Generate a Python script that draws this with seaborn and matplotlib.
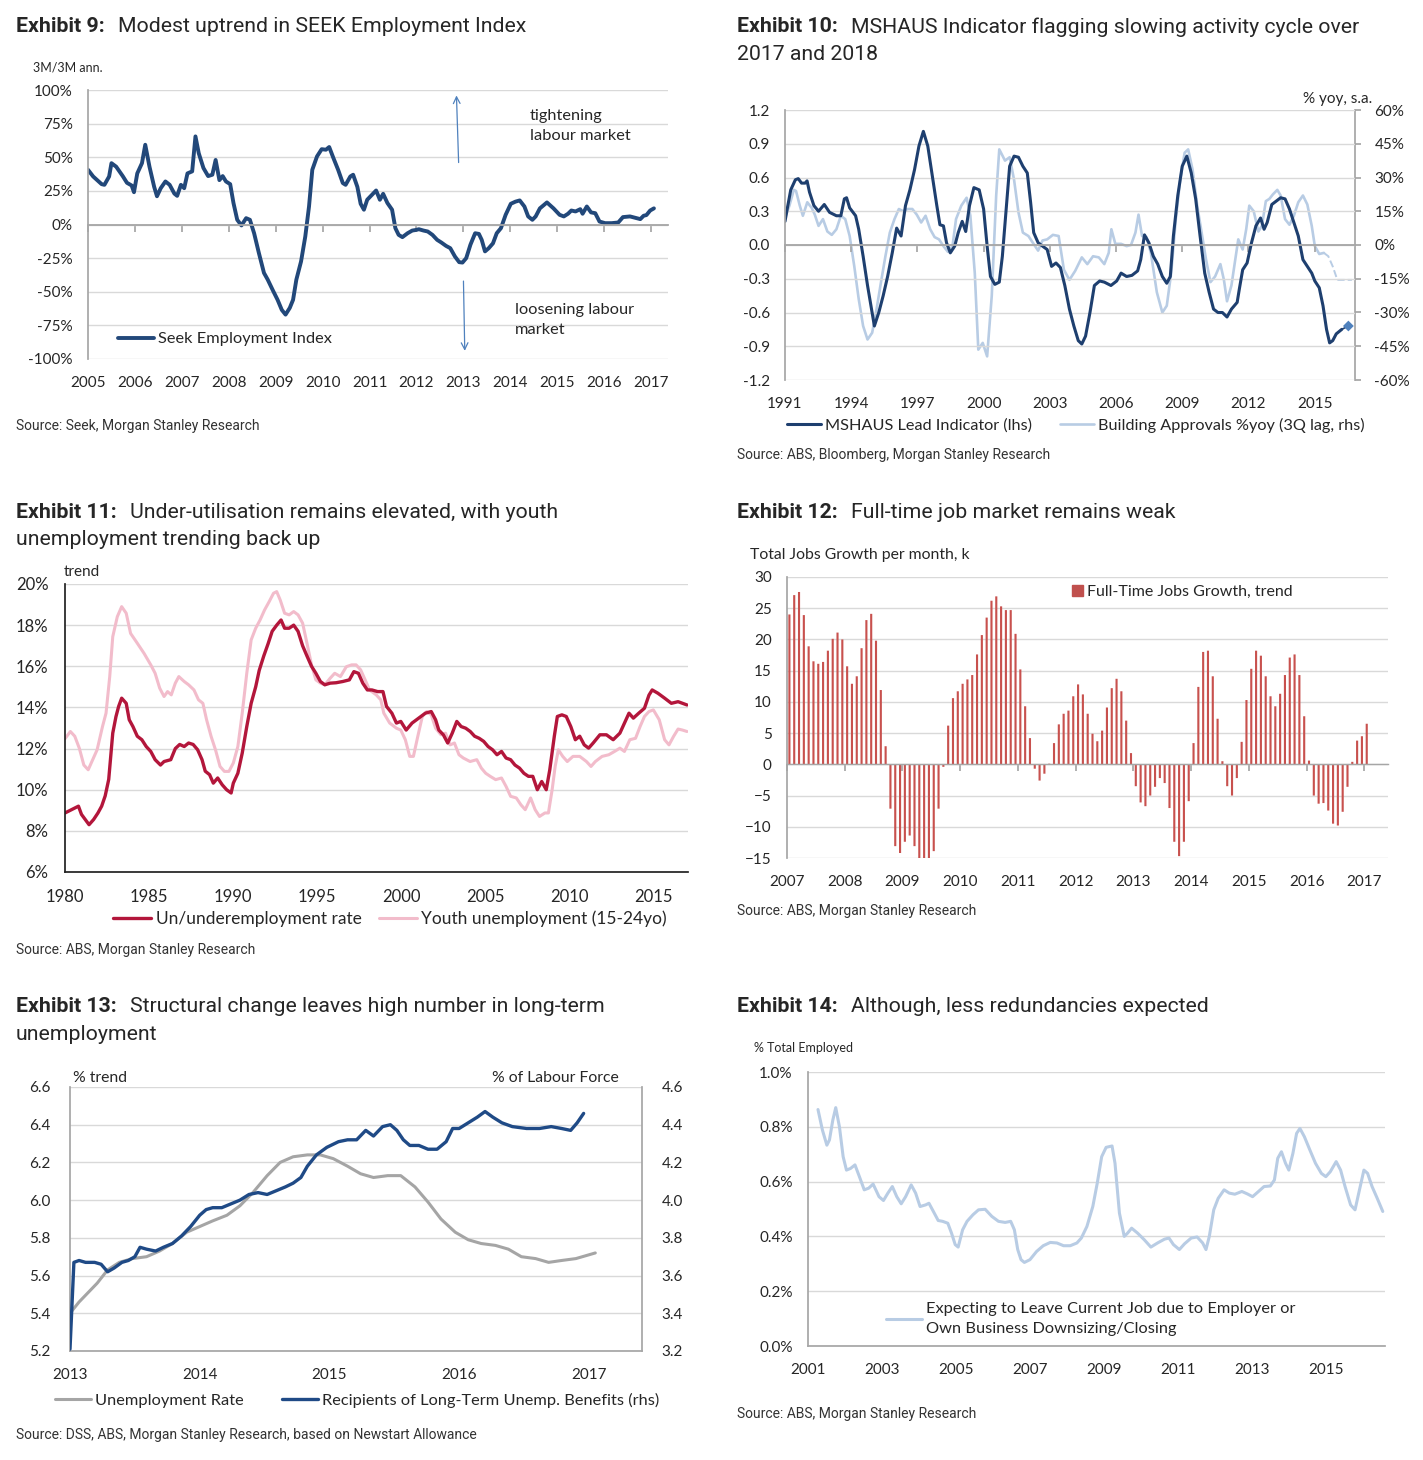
import numpy as np
import matplotlib
matplotlib.use('Agg')
import matplotlib.pyplot as plt
import matplotlib.ticker as mticker
from matplotlib.patches import Patch
import seaborn as sns

sns.set_theme(style='white')
plt.rcParams['font.family'] = ['Lato', 'DejaVu Sans']

# ---------------- data ----------------
# Exhibit 9: SEEK employment index, 3M/3M ann. %
seek = [(2005.0, 40.7), (2005.11, 35.7), (2005.29, 30), (2005.35, 29.5), (2005.45, 35.7), (2005.5, 45.6),
        (2005.6, 43), (2005.74, 36), (2005.83, 31), (2005.93, 29), (2005.98, 24), (2006.05, 38),
        (2006.15, 45.6), (2006.22, 59.3), (2006.31, 43), (2006.41, 28), (2006.47, 21), (2006.55, 27),
        (2006.65, 32), (2006.74, 29.5), (2006.84, 23), (2006.9, 21.3), (2006.98, 29.5), (2007.05, 27),
        (2007.12, 38), (2007.22, 39.5), (2007.29, 65.5), (2007.36, 53), (2007.46, 42), (2007.56, 36),
        (2007.65, 37), (2007.72, 48), (2007.8, 33), (2007.87, 36), (2007.94, 32), (2008.03, 30),
        (2008.1, 16), (2008.18, 3.5), (2008.27, -0.7), (2008.37, 4.7), (2008.45, 3.5), (2008.54, -6.5),
        (2008.64, -21), (2008.75, -36), (2008.83, -41), (2008.94, -49), (2009.04, -56), (2009.13, -63.5),
        (2009.21, -67), (2009.3, -62), (2009.37, -56), (2009.44, -41), (2009.54, -27.5), (2009.63, -9),
        (2009.71, 13.4), (2009.78, 40.7), (2009.88, 50.6), (2009.98, 56), (2010.07, 55.6), (2010.14, 57.6),
        (2010.23, 49.4), (2010.33, 40.7), (2010.43, 30.8), (2010.49, 29.5), (2010.59, 35.7), (2010.65, 37),
        (2010.74, 28), (2010.81, 15.4), (2010.88, 11), (2010.95, 18.4), (2011.05, 22), (2011.14, 25.3),
        (2011.22, 18.4), (2011.29, 22.8), (2011.38, 16), (2011.48, 11), (2011.55, -2.7), (2011.62, -7.7),
        (2011.7, -9.4), (2011.81, -6.5), (2011.91, -4.5), (2012.0, -4), (2012.05, -3.5), (2012.15, -4.5),
        (2012.24, -5.2), (2012.34, -7.7), (2012.44, -11.4), (2012.53, -13.4), (2012.63, -15.9),
        (2012.72, -17.6), (2012.82, -23.8), (2012.91, -28), (2012.98, -28.3), (2013.06, -25), (2013.15, -15),
        (2013.25, -6.5), (2013.33, -7), (2013.39, -11.4), (2013.46, -20), (2013.54, -17.6), (2013.63, -14),
        (2013.71, -6.5), (2013.8, -2.7), (2013.9, 7.2), (2014.01, 15.4), (2014.11, 17), (2014.2, 17.9),
        (2014.3, 13.4), (2014.38, 6), (2014.47, 3.5), (2014.54, 6), (2014.63, 12), (2014.78, 16.4),
        (2014.92, 12), (2015.05, 7.2), (2015.14, 6), (2015.23, 8), (2015.3, 10.4), (2015.39, 9.7),
        (2015.49, 11.4), (2015.54, 8), (2015.63, 13.4), (2015.72, 9), (2015.81, 8.4), (2015.9, 2.2),
        (2016.02, 1), (2016.16, 1), (2016.3, 1.5), (2016.4, 5.5), (2016.55, 6), (2016.69, 4.7),
        (2016.77, 4), (2016.84, 6.5), (2016.9, 7), (2016.98, 10.4), (2017.06, 12)]

# Exhibit 10: MSHAUS lead indicator (lhs) and building approvals %yoy (rhs)
mshaus = [(1991.0, 0.21), (1991.1, 0.32), (1991.26, 0.49), (1991.47, 0.58), (1991.6, 0.59), (1991.75, 0.55),
          (1991.91, 0.55), (1992.0, 0.57), (1992.11, 0.47), (1992.31, 0.35), (1992.52, 0.30), (1992.78, 0.36),
          (1993.02, 0.29), (1993.33, 0.26), (1993.53, 0.26), (1993.69, 0.41), (1993.79, 0.42), (1993.93, 0.33),
          (1994.2, 0.26), (1994.34, 0.14), (1994.54, -0.10), (1994.74, -0.36), (1994.95, -0.6), (1995.05, -0.72),
          (1995.25, -0.6), (1995.45, -0.45), (1995.65, -0.28), (1995.86, -0.07), (1996.06, 0.15), (1996.26, 0.08),
          (1996.46, 0.35), (1996.66, 0.49), (1996.87, 0.67), (1997.07, 0.88), (1997.27, 1.01), (1997.47, 0.88),
          (1997.68, 0.61), (1997.88, 0.35), (1998.02, 0.18), (1998.18, 0.17), (1998.32, 0.02), (1998.49, -0.07),
          (1998.69, -0.01), (1998.85, 0.11), (1999.03, 0.21), (1999.19, 0.12), (1999.36, 0.35), (1999.56, 0.51),
          (1999.8, 0.49), (2000.0, 0.32), (2000.16, -0.01), (2000.31, -0.28), (2000.51, -0.35), (2000.71, -0.33),
          (2000.85, -0.10), (2001.01, 0.29), (2001.18, 0.70), (2001.38, 0.79), (2001.58, 0.78), (2001.78, 0.70),
          (2001.98, 0.64), (2002.13, 0.38), (2002.27, 0.11), (2002.47, 0.02), (2002.67, -0.01), (2002.88, -0.04),
          (2003.08, -0.19), (2003.28, -0.16), (2003.48, -0.2), (2003.68, -0.36), (2003.89, -0.57), (2004.09, -0.72),
          (2004.29, -0.85), (2004.45, -0.88), (2004.62, -0.81), (2004.82, -0.6), (2005.02, -0.36), (2005.26, -0.32),
          (2005.47, -0.33), (2005.77, -0.36), (2006.03, -0.32), (2006.23, -0.25), (2006.48, -0.28), (2006.72, -0.27),
          (2006.98, -0.23), (2007.12, -0.13), (2007.29, 0.09), (2007.49, 0.02), (2007.69, -0.10), (2007.89, -0.17),
          (2008.1, -0.28), (2008.3, -0.34), (2008.46, -0.28), (2008.6, 0.08), (2008.8, 0.44), (2009.0, 0.70),
          (2009.21, 0.79), (2009.41, 0.64), (2009.61, 0.41), (2009.81, 0.08), (2010.02, -0.25), (2010.22, -0.42),
          (2010.42, -0.57), (2010.62, -0.6), (2010.82, -0.6), (2011.03, -0.64), (2011.23, -0.57), (2011.49, -0.51),
          (2011.59, -0.39), (2011.74, -0.22), (2011.94, -0.16), (2012.14, 0.02), (2012.34, 0.17), (2012.55, 0.24),
          (2012.71, 0.14), (2012.85, 0.2), (2013.06, 0.36), (2013.26, 0.39), (2013.46, 0.42), (2013.66, 0.41),
          (2013.86, 0.32), (2014.06, 0.2), (2014.26, 0.08), (2014.47, -0.13), (2014.67, -0.19), (2014.87, -0.25),
          (2015.01, -0.32), (2015.21, -0.38), (2015.38, -0.54), (2015.54, -0.75), (2015.68, -0.87),
          (2015.82, -0.85), (2015.98, -0.79), (2016.23, -0.75)]
mshaus_latest = [(2016.53, -0.72)]
approvals = [(1991.0, 12), (1991.2, 17.5), (1991.4, 24.5), (1991.5, 24), (1991.67, 17.5), (1991.81, 13),
             (1992.01, 19), (1992.21, 16.5), (1992.35, 13.5), (1992.52, 8.5), (1992.72, 11.5), (1992.92, 6),
             (1993.12, 4.5), (1993.33, 7), (1993.53, 13), (1993.73, 11.5), (1993.93, 4), (1994.14, -9.5),
             (1994.34, -24), (1994.54, -36), (1994.74, -42), (1994.95, -39), (1995.15, -28.5), (1995.35, -16.5),
             (1995.55, -5), (1995.75, 5.5), (1995.96, 11.5), (1996.16, 16), (1996.36, 15), (1996.56, 16),
             (1996.77, 16), (1996.97, 13.5), (1997.17, 10), (1997.37, 13), (1997.58, 7), (1997.78, 3.5),
             (1997.98, 2.5), (1998.18, -0.5), (1998.38, -3), (1998.59, -0.5), (1998.75, 11.5), (1998.99, 17.5),
             (1999.23, 21), (1999.4, 13), (1999.6, -12.5), (1999.76, -46.5), (1999.96, -43.5), (2000.16, -49.5),
             (2000.37, -22.5), (2000.57, 22), (2000.71, 42.5), (2000.97, 37.5), (2001.18, 39), (2001.38, 29),
             (2001.58, 14.5), (2001.78, 5.5), (2002.03, 4), (2002.23, 1), (2002.47, -2.5), (2002.67, 2),
             (2002.88, 2.5), (2003.14, 4.5), (2003.4, 4), (2003.64, -11), (2003.89, -15.5), (2004.15, -11.5),
             (2004.45, -5.5), (2004.7, -8.5), (2004.96, -5), (2005.22, -5.5), (2005.47, -8.5), (2005.67, -3.5),
             (2005.79, 7), (2005.97, 0.5), (2006.23, 0.5), (2006.48, -0.5), (2006.68, 0), (2006.88, 5.5),
             (2007.02, 13.5), (2007.18, 4), (2007.38, 3.5), (2007.58, -3.5), (2007.85, -21), (2008.1, -30),
             (2008.3, -27), (2008.5, -12.5), (2008.71, 11.5), (2008.91, 29), (2009.11, 41), (2009.27, 42.5),
             (2009.47, 33.5), (2009.68, 17.5), (2009.88, 5.5), (2010.08, -6.5), (2010.28, -16.5), (2010.49, -14),
             (2010.73, -8.5), (2010.89, -15.5), (2011.03, -25), (2011.23, -18), (2011.54, 2.5), (2011.74, -2),
             (2011.9, 7), (2012.04, 17.5), (2012.24, 15), (2012.45, 6), (2012.61, 8.5), (2012.79, 19.5),
             (2012.95, 20.5), (2013.11, 22.5), (2013.31, 24.5), (2013.46, 22), (2013.66, 11.5), (2013.86, 9),
             (2014.06, 13), (2014.26, 19), (2014.47, 22), (2014.67, 18), (2014.87, 8.5), (2015.01, -0.5),
             (2015.21, -4), (2015.42, -3.5)]
approvals_est = [(2015.42, -3.5), (2015.62, -5), (2015.82, -9.5), (2016.03, -15.5), (2016.69, -15.5)]

# Exhibit 11: un/underemployment rate and youth unemployment, %
underemp = [(1980.0, 8.87), (1980.32, 9.0), (1980.58, 9.1), (1980.8, 9.2), (1980.98, 8.8), (1981.25, 8.5),
            (1981.43, 8.3), (1981.7, 8.55), (1981.96, 8.87), (1982.18, 9.2), (1982.39, 9.7), (1982.6, 10.5),
            (1982.84, 12.75), (1983.03, 13.55), (1983.19, 14.05), (1983.37, 14.45), (1983.64, 14.2),
            (1983.82, 13.4), (1984.04, 13.07), (1984.3, 12.6), (1984.57, 12.43), (1984.83, 12.1), (1985.1, 11.86),
            (1985.36, 11.46), (1985.68, 11.2), (1985.89, 11.37), (1986.29, 11.46), (1986.56, 12.0), (1986.82, 12.2),
            (1987.09, 12.1), (1987.35, 12.27), (1987.62, 12.2), (1987.89, 11.94), (1988.15, 11.46), (1988.34, 10.9),
            (1988.6, 10.73), (1988.82, 10.32), (1989.08, 10.57), (1989.35, 10.24), (1989.61, 10.0), (1989.88, 9.84),
            (1990.01, 10.32), (1990.28, 10.8), (1990.54, 11.78), (1990.81, 13.07), (1991.07, 14.2), (1991.34, 15.0),
            (1991.55, 15.8), (1991.82, 16.5), (1992.08, 17.1), (1992.32, 17.7), (1992.59, 18.0), (1992.85, 18.25),
            (1993.06, 17.85), (1993.33, 17.85), (1993.6, 18.0), (1993.86, 17.7), (1994.13, 17.0), (1994.39, 16.5),
            (1994.66, 16.0), (1994.92, 15.66), (1995.19, 15.26), (1995.45, 15.1), (1995.77, 15.18), (1996.12, 15.2),
            (1996.52, 15.26), (1996.91, 15.34), (1997.18, 15.74), (1997.45, 15.66), (1997.71, 15.18),
            (1997.98, 14.85), (1998.25, 14.85), (1998.59, 14.77), (1998.91, 14.77), (1999.12, 14.05),
            (1999.44, 13.72), (1999.71, 13.24), (1999.97, 13.32), (2000.29, 12.9), (2000.64, 13.24), (2000.9, 13.4),
            (2001.17, 13.56), (2001.43, 13.72), (2001.78, 13.8), (2002.04, 13.4), (2002.23, 12.9), (2002.5, 12.67),
            (2002.76, 12.27), (2003.03, 12.75), (2003.3, 13.32), (2003.56, 13.07), (2003.83, 12.99), (2004.1, 12.83),
            (2004.36, 12.6), (2004.63, 12.5), (2004.9, 12.35), (2005.16, 12.1), (2005.43, 11.94), (2005.69, 11.7),
            (2005.96, 11.86), (2006.23, 11.54), (2006.5, 11.46), (2006.76, 11.2), (2007.03, 11.05), (2007.29, 10.8),
            (2007.56, 10.65), (2007.82, 10.65), (2008.09, 10.0), (2008.35, 10.4), (2008.62, 10.0), (2008.83, 10.97),
            (2009.1, 12.6), (2009.28, 13.56), (2009.55, 13.64), (2009.81, 13.56), (2010.08, 13.07), (2010.35, 12.43),
            (2010.61, 12.6), (2010.88, 12.18), (2011.14, 12.02), (2011.41, 12.27), (2011.81, 12.67), (2012.2, 12.67),
            (2012.6, 12.43), (2013.0, 12.75), (2013.27, 13.24), (2013.54, 13.72), (2013.8, 13.48), (2014.12, 13.72),
            (2014.46, 13.96), (2014.73, 14.6), (2014.92, 14.85), (2015.26, 14.69), (2015.66, 14.45), (2016.06, 14.2),
            (2016.46, 14.28), (2016.72, 14.2), (2016.99, 14.12)]
youth = [(1980.0, 12.48), (1980.32, 12.83), (1980.58, 12.6), (1980.85, 12.02), (1981.12, 11.2), (1981.38, 10.97),
         (1981.65, 11.46), (1981.91, 11.94), (1982.23, 13.07), (1982.44, 13.72), (1982.66, 15.5), (1982.84, 17.44),
         (1983.11, 18.41), (1983.37, 18.9), (1983.64, 18.58), (1983.9, 17.6), (1984.3, 17.12), (1984.7, 16.63),
         (1985.1, 16.07), (1985.36, 15.66), (1985.63, 14.94), (1985.89, 14.53), (1986.1, 14.77), (1986.32, 14.61),
         (1986.56, 15.18), (1986.77, 15.5), (1987.09, 15.26), (1987.35, 15.1), (1987.67, 14.85), (1987.94, 14.37),
         (1988.2, 14.2), (1988.42, 13.4), (1988.69, 12.59), (1988.95, 11.94), (1989.22, 11.13), (1989.48, 10.89),
         (1989.75, 10.89), (1990.01, 11.3), (1990.28, 12.1), (1990.54, 13.72), (1990.81, 15.66), (1991.07, 17.28),
         (1991.34, 17.85), (1991.6, 18.25), (1991.87, 18.74), (1992.14, 19.14), (1992.4, 19.55), (1992.59, 19.63),
         (1992.8, 19.22), (1993.06, 18.58), (1993.33, 18.5), (1993.6, 18.66), (1993.86, 18.5), (1994.13, 18.1),
         (1994.39, 17.12), (1994.66, 16.07), (1994.92, 15.34), (1995.19, 15.18), (1995.45, 15.1), (1995.77, 15.42),
         (1996.04, 15.66), (1996.38, 15.5), (1996.73, 15.98), (1997.05, 16.07), (1997.31, 16.07), (1997.58, 15.83),
         (1997.85, 15.34), (1998.11, 14.85), (1998.51, 14.61), (1998.78, 14.37), (1998.96, 13.72), (1999.31, 13.24),
         (1999.71, 12.99), (1999.97, 12.9), (2000.24, 12.43), (2000.5, 11.62), (2000.72, 11.62), (2000.98, 12.59),
         (2001.25, 13.56), (2001.51, 13.8), (2001.78, 13.64), (2002.04, 12.99), (2002.36, 12.67), (2002.63, 12.75),
         (2002.9, 12.18), (2003.16, 12.27), (2003.43, 11.7), (2003.69, 11.54), (2004.09, 11.37), (2004.49, 11.46),
         (2004.76, 11.05), (2005.02, 10.8), (2005.29, 10.65), (2005.61, 10.49), (2005.96, 10.57), (2006.23, 10.16),
         (2006.5, 9.68), (2006.84, 9.6), (2007.11, 9.27), (2007.37, 9.03), (2007.69, 9.6), (2007.96, 9.03),
         (2008.22, 8.7), (2008.54, 8.87), (2008.75, 8.87), (2008.97, 10.0), (2009.15, 11.13), (2009.34, 11.94),
         (2009.6, 11.62), (2009.87, 11.37), (2010.21, 11.62), (2010.61, 11.62), (2011.01, 11.37), (2011.28, 11.13),
         (2011.54, 11.37), (2011.94, 11.62), (2012.34, 11.7), (2012.68, 11.86), (2013.0, 12.02), (2013.27, 11.86),
         (2013.59, 12.43), (2013.93, 12.5), (2014.2, 13.07), (2014.46, 13.56), (2014.73, 13.8), (2014.99, 13.88),
         (2015.34, 13.4), (2015.66, 12.43), (2015.92, 12.18), (2016.19, 12.59), (2016.46, 12.95), (2016.72, 12.9),
         (2016.99, 12.83)]

# Exhibit 12: full-time jobs growth per month (k), monthly from Jan 2007
ft_start = 2007
ft_growth = [24.0, 27.1, 27.6, 23.9, 18.9, 16.5, 16.1, 16.4, 18.2, 20.1,
             21.1, 20.0, 15.7, 12.9, 14.1, 18.6, 23.1, 24.1, 19.8, 11.9,
             2.9, -7.1, -13.1, -14.2, -12.4, -11.4, -13.1, -15.1, -15.2, -15.1,
             -13.9, -7.1, -0.4, 6.2, 10.6, 11.7, 12.9, 13.6, 14.3, 17.6,
             20.7, 23.5, 26.2, 26.9, 25.3, 24.7, 24.7, 20.9, 15.2, 9.3,
             4.2, -0.7, -2.6, -1.5, 0.1, 3.4, 6.4, 8.1, 8.6, 10.9,
             12.8, 11.2, 8.1, 4.9, 3.7, 5.4, 9.1, 12.2, 13.7, 11.7,
             7.0, 1.8, -3.5, -6.1, -6.7, -5.0, -3.6, -2.2, -3.0, -7.0,
             -12.4, -14.7, -12.4, -5.9, 3.4, 12.4, 18.0, 18.2, 14.1, 7.3,
             0.5, -3.5, -5.0, -2.2, 3.6, 10.3, 15.3, 18.2, 17.4, 14.1,
             10.9, 9.3, 11.3, 14.3, 17.1, 17.6, 14.3, 7.7, 0.6, -5.0,
             -6.3, -6.2, -7.4, -9.5, -9.8, -7.6, -3.6, 0.4, 3.8, 4.5,
             6.5]

# Exhibit 13: unemployment rate (lhs) and long-term benefit recipients (rhs), %
unemp = [(2013.0, 5.40), (2013.07, 5.46), (2013.14, 5.51), (2013.21, 5.56), (2013.29, 5.63), (2013.38, 5.67),
         (2013.48, 5.69), (2013.59, 5.70), (2013.69, 5.73), (2013.79, 5.77), (2013.9, 5.83), (2014.0, 5.86),
         (2014.1, 5.89), (2014.21, 5.92), (2014.31, 5.97), (2014.41, 6.04), (2014.52, 6.13), (2014.62, 6.20),
         (2014.72, 6.23), (2014.83, 6.24), (2014.93, 6.24), (2015.03, 6.22), (2015.14, 6.18), (2015.24, 6.14),
         (2015.34, 6.12), (2015.45, 6.13), (2015.55, 6.13), (2015.66, 6.07), (2015.76, 5.99), (2015.86, 5.90),
         (2015.97, 5.83), (2016.07, 5.79), (2016.17, 5.77), (2016.28, 5.76), (2016.38, 5.74), (2016.48, 5.70),
         (2016.59, 5.69), (2016.69, 5.67), (2016.79, 5.68), (2016.9, 5.69), (2017.0, 5.71), (2017.05, 5.72)]
lt_benefits = [(2013.0, 3.21), (2013.03, 3.67), (2013.07, 3.68), (2013.12, 3.67), (2013.19, 3.67), (2013.24, 3.66),
               (2013.29, 3.62), (2013.34, 3.64), (2013.4, 3.67), (2013.45, 3.68), (2013.5, 3.70), (2013.54, 3.75),
               (2013.59, 3.74), (2013.66, 3.73), (2013.72, 3.75), (2013.79, 3.77), (2013.86, 3.81), (2013.93, 3.86),
               (2014.0, 3.92), (2014.05, 3.95), (2014.1, 3.96), (2014.17, 3.96), (2014.24, 3.98), (2014.31, 4.0),
               (2014.38, 4.03), (2014.45, 4.04), (2014.52, 4.03), (2014.59, 4.05), (2014.66, 4.07), (2014.72, 4.09),
               (2014.78, 4.12), (2014.83, 4.18), (2014.9, 4.24), (2014.98, 4.28), (2015.07, 4.31), (2015.14, 4.32),
               (2015.21, 4.32), (2015.28, 4.37), (2015.34, 4.34), (2015.41, 4.39), (2015.47, 4.40), (2015.52, 4.37),
               (2015.57, 4.32), (2015.62, 4.29), (2015.69, 4.29), (2015.76, 4.27), (2015.83, 4.27), (2015.9, 4.31),
               (2015.95, 4.38), (2016.0, 4.38), (2016.07, 4.41), (2016.14, 4.44), (2016.2, 4.47), (2016.26, 4.44),
               (2016.33, 4.41), (2016.41, 4.39), (2016.52, 4.38), (2016.62, 4.38), (2016.71, 4.39), (2016.79, 4.38),
               (2016.86, 4.37), (2016.91, 4.41), (2016.96, 4.46)]

# Exhibit 14: expecting to leave job due to downsizing/closing, % total employed
redund = [(2001.27, 0.863), (2001.39, 0.788), (2001.51, 0.733), (2001.58, 0.752), (2001.67, 0.824), (2001.75, 0.870),
          (2001.85, 0.80), (2001.95, 0.691), (2002.04, 0.642), (2002.15, 0.648), (2002.27, 0.661), (2002.39, 0.618),
          (2002.52, 0.570), (2002.64, 0.576), (2002.76, 0.591), (2002.92, 0.545), (2003.04, 0.531), (2003.16, 0.558),
          (2003.28, 0.582), (2003.4, 0.545), (2003.52, 0.519), (2003.64, 0.545), (2003.79, 0.588), (2003.91, 0.558),
          (2004.03, 0.509), (2004.18, 0.515), (2004.27, 0.521), (2004.39, 0.491), (2004.52, 0.458), (2004.64, 0.455),
          (2004.78, 0.448), (2004.88, 0.412), (2004.98, 0.370), (2005.06, 0.361), (2005.18, 0.424), (2005.3, 0.455),
          (2005.46, 0.479), (2005.61, 0.497), (2005.79, 0.499), (2005.97, 0.473), (2006.15, 0.455), (2006.33, 0.451),
          (2006.48, 0.455), (2006.58, 0.424), (2006.67, 0.352), (2006.76, 0.315), (2006.85, 0.305), (2007.0, 0.315),
          (2007.18, 0.345), (2007.36, 0.366), (2007.55, 0.378), (2007.73, 0.376), (2007.91, 0.366), (2008.09, 0.366),
          (2008.27, 0.376), (2008.39, 0.394), (2008.54, 0.436), (2008.7, 0.509), (2008.82, 0.594), (2008.94, 0.691),
          (2009.06, 0.725), (2009.22, 0.730), (2009.3, 0.667), (2009.42, 0.485), (2009.55, 0.40), (2009.64, 0.412),
          (2009.75, 0.430), (2009.91, 0.412), (2010.09, 0.388), (2010.27, 0.361), (2010.45, 0.376), (2010.64, 0.390),
          (2010.76, 0.394), (2010.88, 0.370), (2011.04, 0.352), (2011.18, 0.373), (2011.36, 0.394), (2011.52, 0.398),
          (2011.67, 0.376), (2011.76, 0.352), (2011.85, 0.40), (2011.97, 0.497), (2012.09, 0.539), (2012.25, 0.570),
          (2012.39, 0.558), (2012.54, 0.554), (2012.73, 0.564), (2012.88, 0.555), (2013.02, 0.545), (2013.18, 0.564),
          (2013.33, 0.582), (2013.5, 0.584), (2013.61, 0.606), (2013.7, 0.685), (2013.8, 0.709), (2013.91, 0.667),
          (2014.0, 0.642), (2014.11, 0.703), (2014.21, 0.776), (2014.3, 0.794), (2014.42, 0.764), (2014.57, 0.715),
          (2014.72, 0.667), (2014.88, 0.630), (2015.0, 0.618), (2015.12, 0.636), (2015.28, 0.673), (2015.4, 0.642),
          (2015.52, 0.582), (2015.67, 0.515), (2015.79, 0.497), (2015.91, 0.570), (2016.03, 0.642), (2016.13, 0.630),
          (2016.25, 0.582), (2016.39, 0.539), (2016.54, 0.491)]

# ---------------- layout helpers ----------------
W, H = 1423, 1460
fig = plt.figure(figsize=(W / 100, H / 100), dpi=100)
GRID = '#d9d9d9'
AXC = '#a6a6a6'
TFS = 15.3


def box(l, t, r, b):
    return [l / W, 1 - b / H, (r - l) / W, (b - t) / H]


def ftext(x, y, s, **kw):
    kw.setdefault('va', 'center')
    fig.text(x / W, 1 - y / H, s, **kw)


def title(x, x2, y, bold, line1, line2=None):
    ftext(x, y, bold, fontsize=TFS, fontweight='bold', family=['Roboto', 'DejaVu Sans'])
    ftext(x2, y, line1, fontsize=TFS, family=['Roboto', 'DejaVu Sans'])
    if line2:
        ftext(x, y + 28, line2, fontsize=TFS, family=['Roboto', 'DejaVu Sans'])


def source(x, y, s):
    ftext(x, y, s, fontsize=10, color='#333333', family=['Roboto', 'DejaVu Sans'])


def fleg(ax, handles, labels, x, y, fs=11.5, **kw):
    lg = ax.legend(handles, labels, loc='center left', bbox_to_anchor=(x / W, 1 - y / H),
                   bbox_transform=fig.transFigure, frameon=False, borderpad=0, borderaxespad=0,
                   fontsize=fs, handletextpad=0.25, **kw)
    return lg


def line(ax, data, **kw):
    xs, ys = zip(*data)
    sns.lineplot(x=list(xs), y=list(ys), ax=ax, estimator=None, sort=False, **kw)


def base(ax, left_color=AXC):
    for s in ['top', 'right']:
        ax.spines[s].set_visible(False)
    ax.spines['left'].set_color(left_color)
    ax.grid(axis='y', color=GRID, lw=1)
    ax.grid(axis='x', visible=False)
    ax.set_axisbelow(True)
    ax.set_xlabel('')
    ax.set_ylabel('')


def zero_axis(ax, ticks, fs=11, pad=10):
    ax.spines['bottom'].set_position(('data', 0))
    ax.spines['bottom'].set_color(AXC)
    ax.spines['bottom'].set_linewidth(1.3)
    ax.set_xticks(ticks)
    ax.tick_params(axis='x', direction='out', length=5, color=AXC, labelbottom=False, bottom=True)
    sec = ax.secondary_xaxis(0)
    sec.set_xticks(ticks, [str(t) for t in ticks])
    sec.tick_params(length=0, labelsize=fs, pad=pad)
    sec.spines['bottom'].set_visible(False)


pct0 = mticker.FuncFormatter(lambda v, p: f'{v:.0f}%')

# ---------------- Exhibit 9 ----------------
title(16, 118, 27, 'Exhibit 9:', 'Modest uptrend in SEEK Employment Index')
ax9 = fig.add_axes(box(88, 90, 668, 359))
line(ax9, seek, color='#22487a', lw=2.8, label='Seek Employment Index')
base(ax9)
ax9.set_xlim(2005, 2017.36)
ax9.set_ylim(-100, 100)
ax9.set_yticks(np.arange(-100, 101, 25))
ax9.yaxis.set_major_formatter(pct0)
ax9.tick_params(axis='y', length=0, labelsize=11, pad=11)
zero_axis(ax9, list(range(2005, 2018)), pad=12)
ax9.annotate('', xy=(2012.85, 98), xytext=(2012.9, 44),
             arrowprops=dict(arrowstyle='->', color='#4f81bd', lw=0.9))
ax9.annotate('', xy=(2013.03, -96), xytext=(2013.0, -40),
             arrowprops=dict(arrowstyle='->', color='#4f81bd', lw=0.9))
ax9.text(2014.41, 86, 'tightening\nlabour market', fontsize=11.8, va='top', linespacing=1.6)
ax9.text(2014.09, -58, 'loosening labour\nmarket', fontsize=11.8, va='top', linespacing=1.6)
h, l = ax9.get_legend_handles_labels()
fleg(ax9, h, l, 118, 339, fs=11.8, handlelength=2.2)
ftext(33, 68, '3M/3M ann.', fontsize=9)
source(16, 426, 'Source: Seek, Morgan Stanley Research')

# ---------------- Exhibit 10 ----------------
title(737, 851, 27, 'Exhibit 10:', 'MSHAUS Indicator flagging slowing activity cycle over', '2017 and 2018')
ax10 = fig.add_axes(box(785, 110, 1355, 380))
ax10b = ax10.twinx()
line(ax10b, approvals, color='#b8cce4', lw=1.9, label='Building Approvals %yoy (3Q lag, rhs)')
line(ax10b, approvals_est, color='#b8cce4', lw=1.4, linestyle='--')
line(ax10, mshaus, color='#1e3f6f', lw=2.2, label='MSHAUS Lead Indicator (lhs)')
line(ax10, [mshaus[-1]] + mshaus_latest, color='#1e3f6f', lw=1.2)
mx, my = zip(*mshaus_latest)
sns.scatterplot(x=list(mx), y=list(my), ax=ax10, marker='D', color='#4f81bd', s=30, edgecolor='none', zorder=5)
ax10.set_zorder(ax10b.get_zorder() + 1)
ax10.patch.set_visible(False)
base(ax10)
ax10.spines['right'].set_visible(False)
ax10b.spines['top'].set_visible(False)
ax10b.spines['left'].set_visible(False)
ax10b.spines['bottom'].set_visible(False)
ax10b.spines['right'].set_color(AXC)
ax10.set_xlim(1991, 2016.83)
ax10.set_ylim(-1.2, 1.2)
ax10b.set_ylim(-60, 60)
ax10.set_yticks(np.round(np.arange(-1.2, 1.21, 0.3), 1))
ax10.yaxis.set_major_formatter(mticker.FuncFormatter(lambda v, p: f'{v + 0.0:.1f}'))
ax10b.set_yticks(np.arange(-60, 61, 15))
ax10b.yaxis.set_major_formatter(pct0)
ax10b.set_ylabel('')
ax10.tick_params(axis='y', length=0, labelsize=11, pad=11)
ax10b.tick_params(axis='y', direction='out', length=4, color=AXC, labelsize=11, pad=10)
ax10b.grid(False)
zero_axis(ax10, list(range(1991, 2016, 3)), pad=12)
h1, l1 = ax10.get_legend_handles_labels()
h2, l2 = ax10b.get_legend_handles_labels()
if ax10b.get_legend():
    ax10b.get_legend().remove()
fleg(ax10, h1 + h2, l1 + l2, 787, 425, fs=11.7, ncol=2, handlelength=2.1, columnspacing=1.7)
ftext(1303, 99, '% yoy, s.a.', fontsize=11)
source(737, 455, 'Source: ABS, Bloomberg, Morgan Stanley Research')

# ---------------- Exhibit 11 ----------------
title(16, 130, 512, 'Exhibit 11:', 'Under-utilisation remains elevated, with youth',
      'unemployment trending back up')
ax11 = fig.add_axes(box(65, 584, 688, 872))
line(ax11, youth, color='#f2bccb', lw=2.2, label='Youth unemployment (15-24yo)')
line(ax11, underemp, color='#b3163b', lw=2.4, label='Un/underemployment rate')
base(ax11, left_color='#222222')
ax11.spines['bottom'].set_color('#222222')
ax11.set_xlim(1980, 2017.05)
ax11.set_ylim(6, 20)
ax11.set_yticks(np.arange(6, 21, 2))
ax11.yaxis.set_major_formatter(pct0)
ax11.set_xticks(list(range(1980, 2016, 5)))
ax11.tick_params(axis='both', direction='out', length=4, color='#222222', labelsize=12)
ax11.tick_params(axis='y', pad=8)
ax11.tick_params(axis='x', pad=8)
h, l = ax11.get_legend_handles_labels()
fleg(ax11, h[::-1], l[::-1], 113, 919, fs=12.5, ncol=2, handlelength=2.2, columnspacing=1.0)
ftext(64, 572, 'trend', fontsize=11)
source(16, 950, 'Source: ABS, Morgan Stanley Research')

# ---------------- Exhibit 12 ----------------
title(737, 851, 512, 'Exhibit 12:', 'Full-time job market remains weak')
ax12 = fig.add_axes(box(787, 577, 1388, 858))
ft_x = ft_start + (np.arange(len(ft_growth)) + 0.5) / 12
sns.barplot(x=ft_x, y=ft_growth, ax=ax12, native_scale=True, width=0.44, color='#c8514e',
            saturation=1, errorbar=None, linewidth=0, snap=False)
base(ax12)
ax12.set_xlim(2007, 2017.41)
ax12.set_ylim(-15, 30)
ax12.set_yticks(np.arange(-15, 31, 5))
ax12.tick_params(axis='y', length=0, labelsize=11, pad=11)
zero_axis(ax12, list(range(2007, 2018)), pad=12)
ax12.spines['bottom'].set_linewidth(1.0)
fleg(ax12, [Patch(color='#c0504d')], ['Full-Time Jobs Growth, trend'], 1072, 592,
     fs=11.5, handlelength=0.7, handleheight=0.7)
ftext(750, 555, 'Total Jobs Growth per month, k', fontsize=11.3)
source(737, 911, 'Source: ABS, Morgan Stanley Research')

# ---------------- Exhibit 13 ----------------
title(16, 130, 1007, 'Exhibit 13:', 'Structural change leaves high number in long-term', 'unemployment')
ax13 = fig.add_axes(box(70, 1087, 642, 1351))
ax13b = ax13.twinx()
line(ax13, unemp, color='#a5a5a5', lw=2.2, label='Unemployment Rate')
line(ax13b, lt_benefits, color='#1f4a86', lw=2.4, label='Recipients of Long-Term Unemp. Benefits (rhs)')
base(ax13)
ax13.spines['bottom'].set_color(AXC)
ax13b.spines['top'].set_visible(False)
ax13b.spines['left'].set_visible(False)
ax13b.spines['bottom'].set_visible(False)
ax13b.spines['right'].set_color(AXC)
ax13b.grid(False)
ax13.set_xlim(2013, 2017.41)
ax13.set_ylim(5.2, 6.6)
ax13b.set_ylim(3.2, 4.6)
ax13.set_yticks(np.round(np.arange(5.2, 6.61, 0.2), 1))
ax13b.set_yticks(np.round(np.arange(3.2, 4.61, 0.2), 1))
ax13.yaxis.set_major_formatter(mticker.FormatStrFormatter('%.1f'))
ax13b.yaxis.set_major_formatter(mticker.FormatStrFormatter('%.1f'))
ax13b.set_ylabel('')
ax13.set_xticks(list(range(2013, 2018)))
ax13.set_xticks(np.arange(2013.5, 2017.5, 1), minor=True)
ax13.tick_params(axis='x', which='both', direction='out', length=4, color=AXC, labelsize=11, pad=8)
ax13.tick_params(axis='y', length=0, labelsize=11, pad=14)
ax13b.tick_params(axis='y', length=0, labelsize=11, pad=14)
h1, l1 = ax13.get_legend_handles_labels()
h2, l2 = ax13b.get_legend_handles_labels()
if ax13.get_legend():
    ax13.get_legend().remove()
fleg(ax13b, h1 + h2, l1 + l2, 55, 1400, fs=11.8, ncol=2, handlelength=2.2, columnspacing=2.3)
ftext(73, 1078, '% trend', fontsize=11.3)
ftext(492, 1078, '% of Labour Force', fontsize=11.3)
source(16, 1435, 'Source: DSS, ABS, Morgan Stanley Research, based on Newstart Allowance')

# ---------------- Exhibit 14 ----------------
title(737, 851, 1007, 'Exhibit 14:', 'Although, less redundancies expected')
ax14 = fig.add_axes(box(808, 1072, 1385, 1346))
line(ax14, redund, color='#b8cce4', lw=2.2,
     label='Expecting to Leave Current Job due to Employer or\nOwn Business Downsizing/Closing')
base(ax14)
ax14.spines['bottom'].set_color(AXC)
ax14.set_xlim(2001, 2016.6)
ax14.set_ylim(0, 1.0)
ax14.set_yticks(np.round(np.arange(0, 1.01, 0.2), 1))
ax14.yaxis.set_major_formatter(mticker.FuncFormatter(lambda v, p: f'{v:.1f}%'))
ax14.set_xticks(list(range(2001, 2016, 2)))
ax14.tick_params(axis='x', direction='out', length=4, color=AXC, labelsize=11, pad=8)
ax14.tick_params(axis='y', length=0, labelsize=11, pad=11)
h, l = ax14.get_legend_handles_labels()
lg14 = fleg(ax14, h, l, 886, 1319, fs=11.8, handlelength=2.2)
lg14.get_texts()[0].set_linespacing(1.55)
ftext(754, 1048, '% Total Employed', fontsize=9)
source(737, 1414, 'Source: ABS, Morgan Stanley Research')

fig.savefig('out.png', dpi=100, facecolor='white')
